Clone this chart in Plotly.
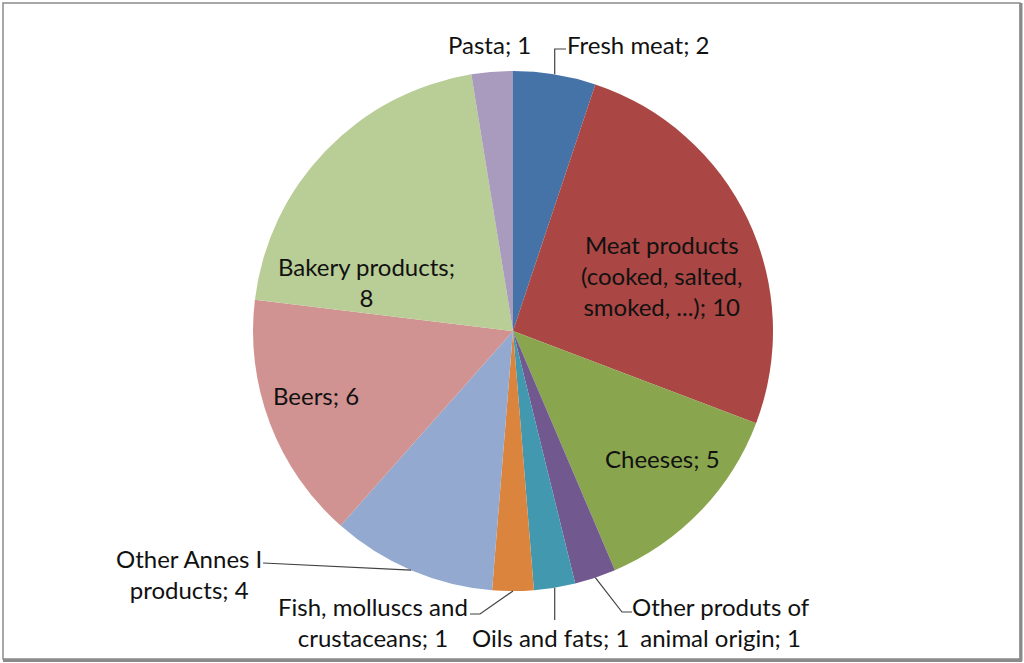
import math
import plotly.graph_objects as go

# ---- data ----
categories = [
    "Fresh meat", "Meat products (cooked, salted, smoked, ...)", "Cheeses",
    "Other produts of animal origin", "Oils and fats", "Fish, molluscs and crustaceans",
    "Other Annes I products", "Beers", "Bakery products", "Pasta",
]
values = [2, 10, 5, 1, 1, 1, 4, 6, 8, 1]
label_texts = [
    "Fresh meat; 2", "Meat products<br>(cooked, salted,<br>smoked, ...); 10", "Cheeses; 5",
    "Other produts of<br>animal origin; 1", "Oils and fats; 1", "Fish, molluscs and<br>crustaceans; 1",
    "Other Annes I<br>products; 4", "Beers; 6", "Bakery products;<br>8", "Pasta; 1",
]
colors = ["#4572A7", "#AA4643", "#89A54E", "#71588F", "#4198AF",
          "#DB843D", "#93A9CF", "#D19392", "#B9CD96", "#A99BBD"]

# ---- layout (pixels) ----
W, H = 1024, 663
CX, CY, R = 513, 331, 260
# label centres (px)
label_pos = [(638, 45), (661, 275), (662, 458), (721, 622), (550, 637),
             (373, 622), (189, 574), (316, 395), (366, 282), (489, 45)]
# leader line routes after the pie-edge start point (px); None = no leader
leader_routes = [
    [("x0", 49), (566, 49)],
    None, None,
    [(622, 612), (632, 612)],
    [("x0", 620)],
    [(480, 614), (470, 614)],
    [(263, 563)],
    None, None, None,
]

def px(x):
    return x / W

def py(y):
    return 1 - y / H

fig = go.Figure(go.Pie(
    labels=categories, values=values, sort=False, direction="clockwise", rotation=0,
    marker=dict(colors=colors, line=dict(width=0)), textinfo="none", hoverinfo="label+value",
    domain=dict(x=[px(CX - R), px(CX + R)], y=[py(CY + R), py(CY - R)]),
    showlegend=False,
))

font = dict(family="Lato, Calibri, sans-serif", size=24, color="#111111")
annotations = []
for txt, (lx, ly) in zip(label_texts, label_pos):
    annotations.append(dict(text=txt, x=px(lx), y=py(ly), xref="paper", yref="paper",
                            showarrow=False, xanchor="center", yanchor="middle",
                            font=font, align="center"))

shapes = []
total = sum(values)
cum = 0
for v, route in zip(values, leader_routes):
    mid = (cum + v / 2) / total * 2 * math.pi
    cum += v
    if route is None:
        continue
    x0 = CX + R * math.sin(mid)
    y0 = CY - R * math.cos(mid)
    pts = [(x0, y0)]
    for (rx, ry) in route:
        pts.append((x0 if rx == "x0" else rx, ry))
    path = "M " + " L ".join(f"{px(a):.5f},{py(b):.5f}" for a, b in pts)
    shapes.append(dict(type="path", path=path, xref="paper", yref="paper",
                       line=dict(color="#404040", width=1.2)))

# chart border
shapes.append(dict(type="rect", xref="paper", yref="paper",
                   x0=px(3), y0=py(659), x1=px(1020), y1=py(3),
                   line=dict(color="#8a8a8a", width=1.5)))
shapes.append(dict(type="line", xref="paper", yref="paper",
                   x0=px(1021), y0=py(3), x1=px(1021), y1=py(661),
                   line=dict(color="#8a8a8a", width=3)))
shapes.append(dict(type="line", xref="paper", yref="paper",
                   x0=px(3), y0=py(660.5), x1=px(1022), y1=py(660.5),
                   line=dict(color="#8a8a8a", width=3)))

fig.update_layout(width=W, height=H, margin=dict(l=0, r=0, t=0, b=0),
                  paper_bgcolor="white", plot_bgcolor="white",
                  annotations=annotations, shapes=shapes)

fig.write_html("out.html", config=dict(displayModeBar=False))
